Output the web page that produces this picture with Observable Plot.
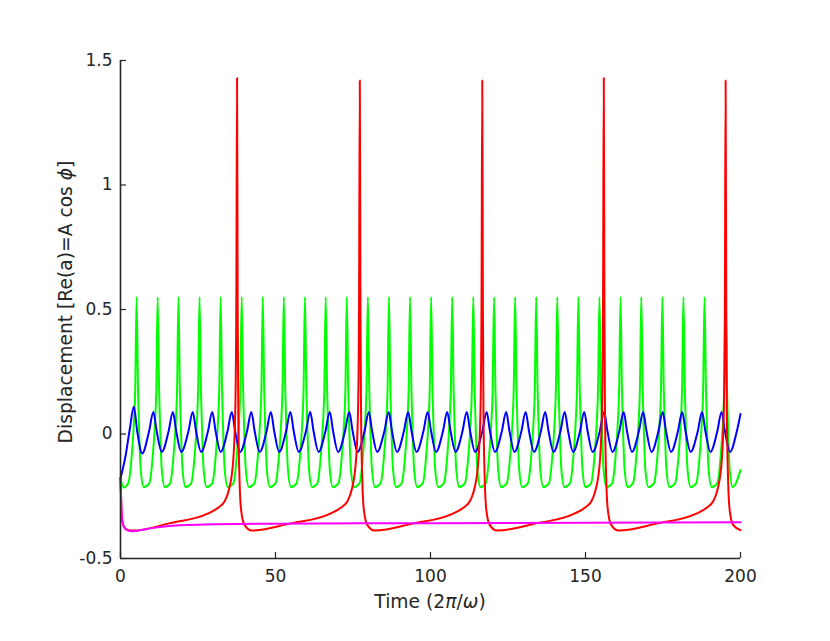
<!DOCTYPE html>
<html><head><meta charset="utf-8">
<script src="https://cdn.jsdelivr.net/npm/d3@7"></script>
<script src="https://cdn.jsdelivr.net/npm/@observablehq/plot@0.6"></script>
<style>
html,body{margin:0;padding:0;background:#fff;}
#chart{width:830px;height:641px;}
</style>
</head><body><div id="chart"></div>
<script>
// ---- tick values and labels ----
const xTicks = [0, 50, 100, 150, 200];
const xTickLabels = ["0", "50", "100", "150", "200"];
const yTicks = [-0.5, 0, 0.5, 1, 1.5];
const yTickLabels = ["-0.5", "0", "0.5", "1", "1.5"];

// ---- series: [time, displacement] ----
const greenPoints = [
  [0,-0.178],[1.0,-0.215],
  [2.5,-0.198],[3.6,-0.09],[4.3,0.04],[4.75,0.18],[5.2,0.55],[5.65,0.18],[5.95,0.04],[6.5,-0.14],[7.5,-0.213],
  [9.3,-0.198],[10.4,-0.09],[11.1,0.04],[11.55,0.18],[12.0,0.55],[12.45,0.18],[12.75,0.04],[13.3,-0.14],[14.3,-0.213],
  [16.0,-0.198],[17.1,-0.09],[17.8,0.04],[18.25,0.18],[18.7,0.55],[19.15,0.18],[19.45,0.04],[20.0,-0.14],[21.0,-0.213],
  [22.8,-0.198],[23.9,-0.09],[24.6,0.04],[25.05,0.18],[25.5,0.55],[25.95,0.18],[26.25,0.04],[26.8,-0.14],[27.8,-0.213],
  [29.6,-0.198],[30.7,-0.09],[31.4,0.04],[31.85,0.18],[32.3,0.55],[32.75,0.18],[33.05,0.04],[33.6,-0.14],[34.6,-0.213],
  [36.4,-0.198],[37.5,-0.09],[38.2,0.04],[38.65,0.18],[39.1,0.55],[39.55,0.18],[39.85,0.04],[40.4,-0.14],[41.4,-0.213],
  [43.2,-0.198],[44.3,-0.09],[45.0,0.04],[45.45,0.18],[45.9,0.55],[46.35,0.18],[46.65,0.04],[47.2,-0.14],[48.2,-0.213],
  [50.0,-0.198],[51.1,-0.09],[51.8,0.04],[52.25,0.18],[52.7,0.55],[53.15,0.18],[53.45,0.04],[54.0,-0.14],[55.0,-0.213],
  [56.8,-0.198],[57.9,-0.09],[58.6,0.04],[59.05,0.18],[59.5,0.55],[59.95,0.18],[60.25,0.04],[60.8,-0.14],[61.8,-0.213],
  [63.5,-0.198],[64.6,-0.09],[65.3,0.04],[65.75,0.18],[66.2,0.55],[66.65,0.18],[66.95,0.04],[67.5,-0.14],[68.5,-0.213],
  [70.3,-0.198],[71.4,-0.09],[72.1,0.04],[72.55,0.18],[73.0,0.55],[73.45,0.18],[73.75,0.04],[74.3,-0.14],[75.3,-0.213],
  [77.1,-0.198],[78.2,-0.09],[78.9,0.04],[79.35,0.18],[79.8,0.55],[80.25,0.18],[80.55,0.04],[81.1,-0.14],[82.1,-0.213],
  [83.9,-0.198],[85.0,-0.09],[85.7,0.04],[86.15,0.18],[86.6,0.55],[87.05,0.18],[87.35,0.04],[87.9,-0.14],[88.9,-0.213],
  [90.7,-0.198],[91.8,-0.09],[92.5,0.04],[92.95,0.18],[93.4,0.55],[93.85,0.18],[94.15,0.04],[94.7,-0.14],[95.7,-0.213],
  [97.5,-0.198],[98.6,-0.09],[99.3,0.04],[99.75,0.18],[100.2,0.55],[100.65,0.18],[100.95,0.04],[101.5,-0.14],[102.5,-0.213],
  [104.3,-0.198],[105.4,-0.09],[106.1,0.04],[106.55,0.18],[107.0,0.55],[107.45,0.18],[107.75,0.04],[108.3,-0.14],[109.3,-0.213],
  [111.1,-0.198],[112.2,-0.09],[112.9,0.04],[113.35,0.18],[113.8,0.55],[114.25,0.18],[114.55,0.04],[115.1,-0.14],[116.1,-0.213],
  [117.8,-0.198],[118.9,-0.09],[119.6,0.04],[120.05,0.18],[120.5,0.55],[120.95,0.18],[121.25,0.04],[121.8,-0.14],[122.8,-0.213],
  [124.6,-0.198],[125.7,-0.09],[126.4,0.04],[126.85,0.18],[127.3,0.55],[127.75,0.18],[128.05,0.04],[128.6,-0.14],[129.6,-0.213],
  [131.4,-0.198],[132.5,-0.09],[133.2,0.04],[133.65,0.18],[134.1,0.55],[134.55,0.18],[134.85,0.04],[135.4,-0.14],[136.4,-0.213],
  [138.2,-0.198],[139.3,-0.09],[140.0,0.04],[140.45,0.18],[140.9,0.55],[141.35,0.18],[141.65,0.04],[142.2,-0.14],[143.2,-0.213],
  [145.0,-0.198],[146.1,-0.09],[146.8,0.04],[147.25,0.18],[147.7,0.55],[148.15,0.18],[148.45,0.04],[149.0,-0.14],[150.0,-0.213],
  [151.8,-0.198],[152.9,-0.09],[153.6,0.04],[154.05,0.18],[154.5,0.55],[154.95,0.18],[155.25,0.04],[155.8,-0.14],[156.8,-0.213],
  [158.6,-0.198],[159.7,-0.09],[160.4,0.04],[160.85,0.18],[161.3,0.55],[161.75,0.18],[162.05,0.04],[162.6,-0.14],[163.6,-0.213],
  [165.3,-0.198],[166.4,-0.09],[167.1,0.04],[167.55,0.18],[168.0,0.55],[168.45,0.18],[168.75,0.04],[169.3,-0.14],[170.3,-0.213],
  [172.1,-0.198],[173.2,-0.09],[173.9,0.04],[174.35,0.18],[174.8,0.55],[175.25,0.18],[175.55,0.04],[176.1,-0.14],[177.1,-0.213],
  [178.9,-0.198],[180.0,-0.09],[180.7,0.04],[181.15,0.18],[181.6,0.55],[182.05,0.18],[182.35,0.04],[182.9,-0.14],[183.9,-0.213],
  [185.7,-0.198],[186.8,-0.09],[187.5,0.04],[187.95,0.18],[188.4,0.55],[188.85,0.18],[189.15,0.04],[189.7,-0.14],[190.7,-0.213],
  [192.5,-0.198],[193.6,-0.09],[194.3,0.04],[194.75,0.18],[195.2,0.55],[195.65,0.18],[195.95,0.04],[196.5,-0.14],[197.5,-0.213],
  [200,-0.145]
];

const bluePoints = [
  [0,-0.178],[1.6,-0.09],[3.0,0.02],
  [4.3,0.11],[5.4,0.01],[7.0,-0.078],[9.2,0.01],
  [10.6,0.088],[11.7,0.01],[13.3,-0.072],[15.5,0.01],[16.9,0.088],[18.0,0.01],[19.6,-0.072],[21.9,0.01],
  [23.3,0.088],[24.4,0.01],[26.0,-0.072],[28.2,0.01],[29.6,0.088],[30.7,0.01],[32.3,-0.072],[34.5,0.01],
  [35.9,0.088],[37.0,0.01],[38.6,-0.072],[40.8,0.01],[42.2,0.088],[43.3,0.01],[44.9,-0.072],[47.1,0.01],
  [48.5,0.088],[49.6,0.01],[51.2,-0.072],[53.4,0.01],[54.8,0.088],[55.9,0.01],[57.5,-0.072],[59.8,0.01],
  [61.2,0.088],[62.3,0.01],[63.9,-0.072],[66.1,0.01],[67.5,0.088],[68.6,0.01],[70.2,-0.072],[72.4,0.01],
  [73.8,0.088],[74.9,0.01],[76.5,-0.072],[78.7,0.01],[80.1,0.088],[81.2,0.01],[82.8,-0.072],[85.1,0.01],
  [86.5,0.088],[87.6,0.01],[89.2,-0.072],[91.4,0.01],[92.8,0.088],[93.9,0.01],[95.5,-0.072],[97.7,0.01],
  [99.1,0.088],[100.2,0.01],[101.8,-0.072],[104.0,0.01],[105.4,0.088],[106.5,0.01],[108.1,-0.072],[110.3,0.01],
  [111.7,0.088],[112.8,0.01],[114.4,-0.072],[116.7,0.01],[118.1,0.088],[119.2,0.01],[120.8,-0.072],[123.0,0.01],
  [124.4,0.088],[125.5,0.01],[127.1,-0.072],[129.3,0.01],[130.7,0.088],[131.8,0.01],[133.4,-0.072],[135.6,0.01],
  [137.0,0.088],[138.1,0.01],[139.7,-0.072],[141.9,0.01],[143.3,0.088],[144.4,0.01],[146.0,-0.072],[148.2,0.01],
  [149.6,0.088],[150.7,0.01],[152.3,-0.072],[154.6,0.01],[156.0,0.088],[157.1,0.01],[158.7,-0.072],[160.9,0.01],
  [162.3,0.088],[163.4,0.01],[165.0,-0.072],[167.2,0.01],[168.6,0.088],[169.7,0.01],[171.3,-0.072],[173.5,0.01],
  [174.9,0.088],[176.0,0.01],[177.6,-0.072],[179.8,0.01],[181.2,0.088],[182.3,0.01],[183.9,-0.072],[186.2,0.01],
  [187.6,0.088],[188.7,0.01],[190.3,-0.072],[192.5,0.01],[193.9,0.088],[195.0,0.01],[196.6,-0.072],[198.8,0.01],
  [200,0.08]
];

const redPoints = [
  [0,-0.178],[0.3,-0.3],[0.6,-0.35],[1.2,-0.375],[2.5,-0.387],[4.3,-0.388],[16,-0.358],
  [28.1,-0.32],[31.6,-0.295],[33.6,-0.27],[34.6,-0.24],[36.2,-0.13],[37.0,0.08],[37.35,0.5],[37.6,1.43],
  [37.8,0.5],[38.0,0.08],[38.4,-0.185],[38.9,-0.305],[40.0,-0.365],[42.4,-0.388],[54.6,-0.36],
  [67.7,-0.32],[71.2,-0.295],[73.2,-0.27],[74.2,-0.24],[75.8,-0.13],[76.6,0.08],[76.95,0.5],[77.2,1.42],
  [77.4,0.5],[77.6,0.08],[78.0,-0.185],[78.5,-0.305],[79.6,-0.365],[82.0,-0.388],[94.2,-0.36],
  [107.2,-0.32],[110.7,-0.295],[112.7,-0.27],[113.7,-0.24],[115.3,-0.13],[116.1,0.08],[116.45,0.5],[116.7,1.42],
  [116.9,0.5],[117.1,0.08],[117.5,-0.185],[118.0,-0.305],[119.1,-0.365],[121.5,-0.388],[133.7,-0.36],
  [146.4,-0.32],[149.9,-0.295],[151.9,-0.27],[152.9,-0.24],[154.5,-0.13],[155.3,0.08],[155.65,0.5],[155.9,1.43],
  [156.1,0.5],[156.3,0.08],[156.7,-0.185],[157.2,-0.305],[158.3,-0.365],[160.7,-0.388],[172.9,-0.36],
  [185.7,-0.32],[189.2,-0.295],[191.2,-0.27],[192.2,-0.24],[193.8,-0.13],[194.6,0.08],[194.95,0.5],[195.2,1.42],
  [195.4,0.5],[195.6,0.08],[196.0,-0.185],[196.5,-0.305],[197.6,-0.365],[200,-0.386]
];

const magentaPoints = [
  [0,-0.178],[0.3,-0.3],[0.6,-0.35],[1.2,-0.375],[2.5,-0.388],[3.8,-0.391],[6,-0.387],
  [10,-0.378],[15,-0.37],[25,-0.364],[50,-0.36],[100,-0.358],[150,-0.356],[200,-0.354]
];

const seriesColors = {green: "#00ff00", blue: "#0000ff", red: "#ff0000", magenta: "#ff00ff"};
const axisColor = "#262626";

const lineOpts = (color) => ({
  x: d => d[0], y: d => d[1], stroke: color, strokeWidth: 2,
  curve: "monotone-x", strokeLinejoin: "round", strokeLinecap: "round"
});

const W = 830, H = 641, mt = 60, mr = 90, mb = 83, ml = 120;

const chart = Plot.plot({
  width: W, height: H,
  marginTop: mt, marginRight: mr, marginBottom: mb, marginLeft: ml,
  style: {fontFamily: "DejaVu Sans", fontSize: "17px", color: axisColor, background: "#fff", overflow: "visible"},
  x: {domain: [0, 200]},
  y: {domain: [-0.5, 1.5]},
  marks: [
    Plot.line(greenPoints, lineOpts(seriesColors.green)),
    Plot.line(bluePoints, lineOpts(seriesColors.blue)),
    Plot.line(redPoints, lineOpts(seriesColors.red)),
    Plot.line(magentaPoints, lineOpts(seriesColors.magenta)),
    Plot.tickX(xTicks, {x: d => d, insetTop: H - mt - mb - 6, stroke: axisColor, strokeWidth: 1.2}),
    Plot.tickY(yTicks, {y: d => d, insetRight: W - ml - mr - 6, stroke: axisColor, strokeWidth: 1.2}),
    Plot.ruleY([-0.5], {stroke: axisColor, strokeWidth: 1.6}),
    Plot.ruleX([0], {stroke: axisColor, strokeWidth: 1.6}),
    Plot.axisX(xTicks, {tickSize: 0, tickPadding: 11, label: null, fontSize: 17, fill: axisColor,
      tickFormat: d => xTickLabels[xTicks.indexOf(d)]}),
    Plot.axisY(yTicks, {tickSize: 0, tickPadding: 8, label: null, fontSize: 17, fill: axisColor,
      tickFormat: d => yTickLabels[yTicks.indexOf(d)]})
  ]
});

const svg = d3.select(chart);
// x axis label
const xl = svg.append("text")
  .attr("x", ml + (W - ml - mr) / 2).attr("y", 608)
  .attr("text-anchor", "middle").attr("fill", axisColor)
  .style("font-family", "DejaVu Sans").style("font-size", "18.7px");
xl.append("tspan").text("Time (2");
xl.append("tspan").attr("font-style", "italic").text("π");
xl.append("tspan").text("/");
xl.append("tspan").attr("font-style", "italic").text("ω");
xl.append("tspan").text(")");
// y axis label
const yl = svg.append("text")
  .attr("transform", "translate(72,302) rotate(-90)")
  .attr("text-anchor", "middle").attr("fill", axisColor)
  .style("font-family", "DejaVu Sans").style("font-size", "18.7px");
yl.append("tspan").text("Displacement [Re(a)=A cos ");
yl.append("tspan").attr("font-style", "italic").text("ϕ");
yl.append("tspan").text("]");

document.getElementById("chart").appendChild(chart);
</script>
</body></html>
